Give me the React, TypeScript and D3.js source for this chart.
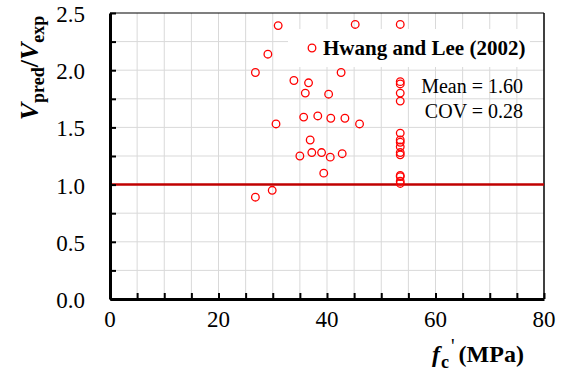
import React, { useEffect, useRef } from "react";
import * as d3 from "d3";

// f'c (MPa) and Vpred/Vexp
const fc = [
  31.0, 29.1, 26.8, 33.9, 36.6, 42.6, 36.0, 40.3, 30.6, 35.7, 38.3, 40.7,
  43.3, 36.9, 35.0, 37.2, 39.0, 40.6, 42.8, 39.4, 29.9, 26.8, 45.2, 46.0,
  53.5, 53.5, 53.5, 53.5, 53.5, 53.5, 53.5, 53.5, 53.5, 53.5, 53.5, 53.5,
  53.5, 53.5, 53.5,
];
const ratio = [
  2.39, 2.14, 1.98, 1.91, 1.89, 1.98, 1.8, 1.79, 1.53, 1.59, 1.6, 1.58, 1.58,
  1.39, 1.25, 1.28, 1.28, 1.24, 1.27, 1.1, 0.95, 0.89, 2.4, 1.53, 2.4, 1.9,
  1.88, 1.8, 1.73, 1.45, 1.39, 1.37, 1.33, 1.28, 1.26, 1.08, 1.07, 1.03, 1.01,
];
const xTicks = [0, 20, 40, 60, 80];
const yTicks = [0, 0.5, 1.0, 1.5, 2.0, 2.5];
const legendLabel = "Hwang and Lee (2002)";
const statLines = ["Mean = 1.60", "COV = 0.28"];

const FONT = "'Liberation Serif', 'DejaVu Serif', serif";

const App: React.FC = () => {
  const svgRef = useRef<SVGSVGElement | null>(null);

  useEffect(() => {
    const W = 567,
      H = 374;
    const margin = { top: 13, right: 23, bottom: 75, left: 110 };
    const width = W - margin.left - margin.right;
    const height = H - margin.top - margin.bottom;

    const svg = d3.select(svgRef.current);
    svg.selectAll("*").remove();
    svg.attr("width", W).attr("height", H);

    const g = svg
      .append("g")
      .attr("transform", `translate(${margin.left},${margin.top})`);

    const x = d3.scaleLinear().domain([0, 80]).range([0, width]);
    const y = d3.scaleLinear().domain([0, 2.5]).range([height, 0]);

    const xGrid = d3.range(5, 80, 5);
    const yGrid = d3.range(0.25, 2.5, 0.25);

    // gridlines
    g.append("g")
      .selectAll("line.vx")
      .data(xGrid)
      .enter()
      .append("line")
      .attr("x1", (d) => x(d))
      .attr("x2", (d) => x(d))
      .attr("y1", 0)
      .attr("y2", height)
      .attr("stroke", "#d9d9d9")
      .attr("stroke-width", 1);
    g.append("g")
      .selectAll("line.hy")
      .data(yGrid)
      .enter()
      .append("line")
      .attr("x1", 0)
      .attr("x2", width)
      .attr("y1", (d) => y(d))
      .attr("y2", (d) => y(d))
      .attr("stroke", "#d9d9d9")
      .attr("stroke-width", 1);

    // top / right frame
    g.append("line")
      .attr("x1", 0)
      .attr("x2", width)
      .attr("y1", 0)
      .attr("y2", 0)
      .attr("stroke", "#000")
      .attr("stroke-width", 1.2);
    g.append("line")
      .attr("x1", width)
      .attr("x2", width)
      .attr("y1", 0)
      .attr("y2", height)
      .attr("stroke", "#000")
      .attr("stroke-width", 1.5);

    // legend box (white, hides grid)
    g.append("rect")
      .attr("x", 178)
      .attr("y", 16)
      .attr("width", 242)
      .attr("height", 38)
      .attr("fill", "#fff");

    // reference line at 1.0
    g.append("line")
      .attr("x1", 0)
      .attr("x2", width)
      .attr("y1", y(1))
      .attr("y2", y(1))
      .attr("stroke", "#c00000")
      .attr("stroke-width", 2.5);

    // points
    g.append("g")
      .selectAll("circle")
      .data(fc.map((v, i) => [v, ratio[i]]))
      .enter()
      .append("circle")
      .attr("cx", (d) => x(d[0]))
      .attr("cy", (d) => y(d[1]))
      .attr("r", 3.8)
      .attr("fill", "none")
      .attr("stroke", "#ff0000")
      .attr("stroke-width", 1.3);

    // axes: inward ticks
    const xAxis = d3
      .axisBottom(x)
      .tickValues(d3.range(0, 85, 5))
      .tickSizeInner(-6)
      .tickSizeOuter(0)
      .tickFormat(() => "");
    const yAxis = d3
      .axisLeft(y)
      .tickValues(d3.range(0, 2.75, 0.25))
      .tickSizeInner(-6)
      .tickSizeOuter(0)
      .tickFormat(() => "");

    const gx = g
      .append("g")
      .attr("transform", `translate(0,${height})`)
      .call(xAxis);
    gx.select(".domain").attr("stroke-width", 3);
    gx.selectAll(".tick line").attr("stroke-width", 2);

    const gy = g.append("g").call(yAxis);
    gy.select(".domain").attr("stroke-width", 3);
    gy.selectAll(".tick line").attr("stroke-width", 2);

    // tick labels
    g.append("g")
      .selectAll("text")
      .data(xTicks)
      .enter()
      .append("text")
      .attr("x", (d) => x(d))
      .attr("y", height + 28)
      .attr("text-anchor", "middle")
      .style("font-family", FONT)
      .style("font-size", "23px")
      .attr("fill", "#000")
      .text((d) => d3.format("d")(d));
    g.append("g")
      .selectAll("text")
      .data(yTicks)
      .enter()
      .append("text")
      .attr("x", -25)
      .attr("y", (d) => y(d) + 9)
      .attr("text-anchor", "end")
      .style("font-family", FONT)
      .style("font-size", "23px")
      .attr("fill", "#000")
      .text((d) => d3.format(".1f")(d));

    // legend
    g.append("circle")
      .attr("cx", 202)
      .attr("cy", 35)
      .attr("r", 3.8)
      .attr("fill", "none")
      .attr("stroke", "#ff0000")
      .attr("stroke-width", 1.3);
    g.append("text")
      .attr("x", 213)
      .attr("y", 42)
      .style("font-family", FONT)
      .style("font-size", "21px")
      .style("font-weight", "bold")
      .attr("fill", "#000")
      .text(legendLabel);

    // statistics
    g.append("g")
      .selectAll("text")
      .data(statLines)
      .enter()
      .append("text")
      .attr("x", 413)
      .attr("y", (_, i) => 80 + i * 25)
      .attr("text-anchor", "end")
      .style("font-family", FONT)
      .style("font-size", "20px")
      .attr("fill", "#000")
      .text((d) => d);

    // x title
    const xt = svg
      .append("text")
      .attr("x", 432)
      .attr("y", 362)
      .style("font-family", FONT)
      .style("font-size", "24px")
      .style("font-weight", "bold")
      .attr("fill", "#000");
    xt.append("tspan").style("font-style", "italic").text("f");
    xt.append("tspan")
      .attr("dy", 6)
      .attr("dx", 1)
      .style("font-size", "18px")
      .text("c");
    xt.append("tspan")
      .attr("dy", -15)
      .attr("dx", 2)
      .style("font-size", "20px")
      .style("font-weight", "normal")
      .text("'");
    xt.append("tspan").attr("dy", 9).attr("dx", 4).text("(MPa)");

    // y title
    const yt = svg
      .append("text")
      .attr("transform", "translate(38,68) rotate(-90)")
      .attr("text-anchor", "middle")
      .style("font-family", FONT)
      .style("font-size", "26px")
      .style("font-weight", "bold")
      .attr("fill", "#000");
    yt.append("tspan").style("font-style", "italic").text("V");
    yt.append("tspan")
      .attr("dy", 6)
      .style("font-size", "18px")
      .text("pred");
    yt.append("tspan").attr("dy", -6).text("/");
    yt.append("tspan").style("font-style", "italic").text("V");
    yt.append("tspan")
      .attr("dy", 6)
      .style("font-size", "18px")
      .text("exp");
  }, []);

  return (
    <svg
      ref={svgRef}
      style={{ position: "absolute", left: 0, top: 0, display: "block" }}
    ></svg>
  );
};

export default App;
